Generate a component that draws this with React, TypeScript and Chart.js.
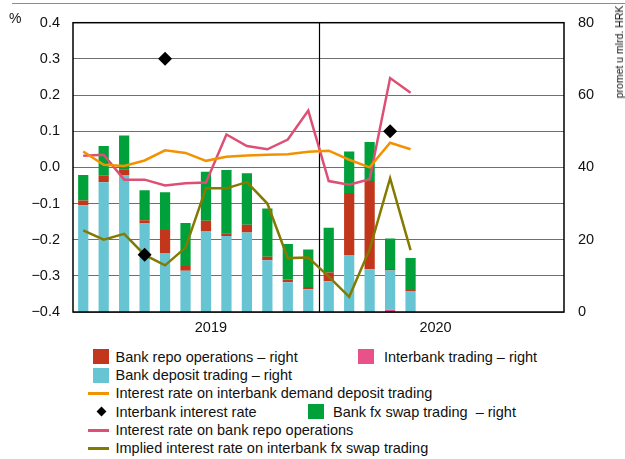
import React, { useEffect, useRef } from "react";
import { Chart, registerables } from "chart.js";

Chart.register(...registerables);

// ---- data ----
const months = [
  "2019-01", "2019-02", "2019-03", "2019-04", "2019-05", "2019-06",
  "2019-07", "2019-08", "2019-09", "2019-10", "2019-11", "2019-12",
  "2020-01", "2020-02", "2020-03", "2020-04", "2020-05", "2020-06",
  "2020-07", "2020-08", "2020-09", "2020-10", "2020-11", "2020-12",
];
const yearLabels = ["2019", "2020"];
const leftTicks = [-0.4, -0.3, -0.2, -0.1, 0, 0.1, 0.2, 0.3, 0.4];
const rightTicks = [0, 20, 40, 60, 80];

// bars (right axis, bn HRK)
const interbankTrading = [null, null, null, null, null, null, null, null, null, null, null, null, null, null, null, 0.6, null];
const bankDepositTrading = [29.5, 35.9, 37.9, 24.5, 16.3, 11.4, 22.4, 21.0, 22.0, 14.3, 8.2, 6.3, 8.5, 15.6, 11.8, 10.9, 5.8];
const bankRepoOperations = [1.3, 1.8, 1.6, 0.9, 6.4, 1.3, 2.8, 0.8, 2.1, 1.0, 0.8, 0.6, 2.4, 17.3, 24.4, 0.4, 0.3];
const bankFxSwapTrading = [7.1, 8.2, 9.3, 8.3, 10.4, 11.9, 13.6, 17.5, 14.3, 13.3, 9.8, 10.4, 12.4, 11.5, 10.8, 8.4, 8.8];

// lines (left axis, %)
const demandDepositRate = [0.044, 0.007, 0.004, 0.019, 0.047, 0.040, 0.018, 0.029, 0.033, 0.035, 0.036, 0.043, 0.046, 0.021, 0.000, 0.068, 0.050];
const repoRate = [0.032, 0.035, -0.034, -0.034, -0.050, -0.044, -0.042, 0.091, 0.059, 0.050, 0.077, 0.157, -0.038, -0.048, -0.033, 0.247, 0.206];
const fxSwapImpliedRate = [-0.174, -0.200, -0.184, -0.242, -0.271, -0.222, -0.058, -0.058, -0.041, -0.100, -0.251, -0.249, -0.302, -0.358, -0.227, -0.030, -0.229];
const interbankRate = [null, null, null, -0.242, 0.30, null, null, null, null, null, null, null, null, null, null, 0.10, null];

const labelRepo = "Bank repo operations \u2013 right";
const labelInterbankTrading = "Interbank trading \u2013 right";
const labelDeposit = "Bank deposit trading \u2013 right";
const labelDemandRate = "Interest rate on interbank demand deposit trading";
const labelInterbankRate = "Interbank interest rate";
const labelFxSwap = "Bank fx swap trading  \u2013 right";
const labelRepoRate = "Interest rate on bank repo operations";
const labelSwapRate = "Implied interest rate on interbank fx swap trading";

const COL = {
  repo: "#c2361b",
  deposit: "#67c5d3",
  fx: "#00a13b",
  interbank: "#e8518a",
  demandRate: "#f39200",
  repoRate: "#dd5075",
  swapRate: "#857a00",
  diamond: "#000000",
};

const FONT = '"Liberation Sans", Arial, Helvetica, sans-serif';

const fmtLeft = (v: number) => {
  const r = Math.round(v * 10) / 10;
  if (Math.abs(r) < 1e-9) return "0.0";
  return (r < 0 ? "\u2212" : "") + Math.abs(r).toFixed(1);
};

const decor = {
  id: "decor",
  beforeDatasetsDraw(chart: any) {
    const { ctx, chartArea: a, scales } = chart;
    const x = scales.x;
    const xb = Math.round((x.getPixelForValue(11) + x.getPixelForValue(12)) / 2) + 0.5;
    ctx.save();
    ctx.strokeStyle = "#000";
    ctx.lineWidth = 1.2;
    ctx.beginPath();
    ctx.moveTo(xb, a.top);
    ctx.lineTo(xb, a.bottom);
    ctx.stroke();
    ctx.restore();
  },
  afterDraw(chart: any) {
    const { ctx, chartArea: a, scales } = chart;
    const x = scales.x;
    ctx.save();
    ctx.strokeStyle = "#000";
    ctx.lineWidth = 1.5;
    ctx.strokeRect(a.left, a.top, a.right - a.left, a.bottom - a.top);
    ctx.fillStyle = "#111";
    ctx.font = "14.5px " + FONT;
    ctx.textAlign = "center";
    ctx.textBaseline = "middle";
    const pos = [6.24, 17.22];
    yearLabels.forEach((t, i) => {
      ctx.fillText(t, x.getPixelForValue(pos[i]), a.bottom + 16);
    });
    ctx.restore();
  },
};

export default function App() {
  const ref = useRef<HTMLCanvasElement>(null);

  useEffect(() => {
    if (!ref.current) return;
    Chart.defaults.font.family = FONT;
    Chart.defaults.font.size = 14.5;
    Chart.defaults.color = "#111";
    const barCommon = { yAxisID: "y1", stack: "s", order: 2, barPercentage: 0.5, categoryPercentage: 1, borderWidth: 0 };
    const lineCommon = { yAxisID: "y", order: 1, pointRadius: 0, borderWidth: 2.5, tension: 0, fill: false, spanGaps: false };
    const chart = new Chart(ref.current, {
      type: "bar",
      data: {
        labels: months,
        datasets: [
          { ...barCommon, type: "bar", label: labelInterbankTrading, data: interbankTrading as any, backgroundColor: COL.interbank },
          { ...barCommon, type: "bar", label: labelDeposit, data: bankDepositTrading, backgroundColor: COL.deposit },
          { ...barCommon, type: "bar", label: labelRepo, data: bankRepoOperations, backgroundColor: COL.repo },
          { ...barCommon, type: "bar", label: labelFxSwap, data: bankFxSwapTrading, backgroundColor: COL.fx },
          { ...lineCommon, type: "line", label: labelDemandRate, data: demandDepositRate, borderColor: COL.demandRate, backgroundColor: COL.demandRate },
          { ...lineCommon, type: "line", label: labelRepoRate, data: repoRate, borderColor: COL.repoRate, backgroundColor: COL.repoRate },
          { ...lineCommon, type: "line", label: labelSwapRate, data: fxSwapImpliedRate, borderColor: COL.swapRate, backgroundColor: COL.swapRate },
          {
            type: "line", label: labelInterbankRate, data: interbankRate as any, yAxisID: "y", order: 0,
            showLine: false, pointStyle: "rectRot", pointRadius: 7, pointHoverRadius: 7,
            backgroundColor: COL.diamond, borderColor: COL.diamond, borderWidth: 0,
          },
        ] as any,
      },
      options: {
        responsive: false,
        animation: false,
        devicePixelRatio: 1,
        layout: { padding: { top: 18, left: 0, right: 0, bottom: 0 } },
        plugins: { legend: { display: false }, tooltip: { enabled: false } },
        scales: {
          x: {
            type: "category",
            stacked: true,
            offset: true,
            grid: { display: false },
            border: { display: false },
            ticks: { display: false },
            afterFit: (s: any) => { s.height = 28; },
          },
          y: {
            position: "left",
            min: -0.4,
            max: 0.4,
            afterBuildTicks: (s: any) => { s.ticks = leftTicks.map((v) => ({ value: v })); },
            ticks: { callback: (v: any) => fmtLeft(Number(v)), padding: 13, color: "#111" },
            grid: { color: "#6f6f6f", lineWidth: 1, drawTicks: false },
            border: { display: false },
            afterFit: (s: any) => { s.width = 73; },
          },
          y1: {
            position: "right",
            min: 0,
            max: 80,
            stacked: true,
            afterBuildTicks: (s: any) => { s.ticks = rightTicks.map((v) => ({ value: v })); },
            ticks: { callback: (v: any) => String(v), padding: 14, color: "#111" },
            grid: { display: false, drawTicks: false },
            border: { display: false },
            afterFit: (s: any) => { s.width = 61; },
          },
        },
      } as any,
      plugins: [decor],
    });
    return () => chart.destroy();
  }, []);

  const legendText: React.CSSProperties = { position: "absolute", fontSize: 14.5, lineHeight: "18px", whiteSpace: "pre", color: "#111" };
  const square = (left: number, cy: number, color: string) => (
    <div style={{ position: "absolute", left, top: cy - 7.5, width: 16, height: 15, background: color }} />
  );
  const lineMark = (cy: number, color: string) => (
    <div style={{ position: "absolute", left: 88, top: cy - 1.5, width: 21, height: 3, background: color }} />
  );
  const rows = [356.7, 375, 393.3, 411.7, 430, 448.3];

  return (
    <div style={{ position: "fixed", left: 0, top: 0, width: 625, height: 459, background: "#fff", fontFamily: FONT, overflow: "hidden" }}>
      <div style={{ position: "absolute", left: 12, top: 3, width: 613, height: 1, background: "#8c8c8c" }} />
      <canvas ref={ref} width={625} height={340} style={{ position: "absolute", left: 0, top: 0, width: 625, height: 340 }} />
      <div style={{ position: "absolute", left: 9, top: 9, fontSize: 14, lineHeight: "18px", color: "#111" }}>%</div>
      <div style={{ position: "absolute", left: 619, top: 52, transform: "translate(-50%, -50%) rotate(-90deg)", whiteSpace: "nowrap", fontSize: 10.5, lineHeight: "12px", color: "#111" }}>
        promet u mlrd. HRK
      </div>

      {square(93, rows[0], COL.repo)}
      <div style={{ ...legendText, left: 115.5, top: rows[0] - 9 }}>{labelRepo}</div>
      {square(358, rows[0], COL.interbank)}
      <div style={{ ...legendText, left: 384, top: rows[0] - 9 }}>{labelInterbankTrading}</div>

      {square(93, rows[1], COL.deposit)}
      <div style={{ ...legendText, left: 115.5, top: rows[1] - 9 }}>{labelDeposit}</div>

      {lineMark(rows[2], COL.demandRate)}
      <div style={{ ...legendText, left: 115.5, top: rows[2] - 9 }}>{labelDemandRate}</div>

      <div style={{ position: "absolute", left: 101.7 - 3.5, top: rows[3] - 3.5, width: 7, height: 7, background: "#000", transform: "rotate(45deg)" }} />
      <div style={{ ...legendText, left: 115.5, top: rows[3] - 9 }}>{labelInterbankRate}</div>
      {square(308, rows[3], COL.fx)}
      <div style={{ ...legendText, left: 333, top: rows[3] - 9 }}>{labelFxSwap}</div>

      {lineMark(rows[4], COL.repoRate)}
      <div style={{ ...legendText, left: 115.5, top: rows[4] - 9 }}>{labelRepoRate}</div>

      {lineMark(rows[5], COL.swapRate)}
      <div style={{ ...legendText, left: 115.5, top: rows[5] - 9 }}>{labelSwapRate}</div>
    </div>
  );
}
